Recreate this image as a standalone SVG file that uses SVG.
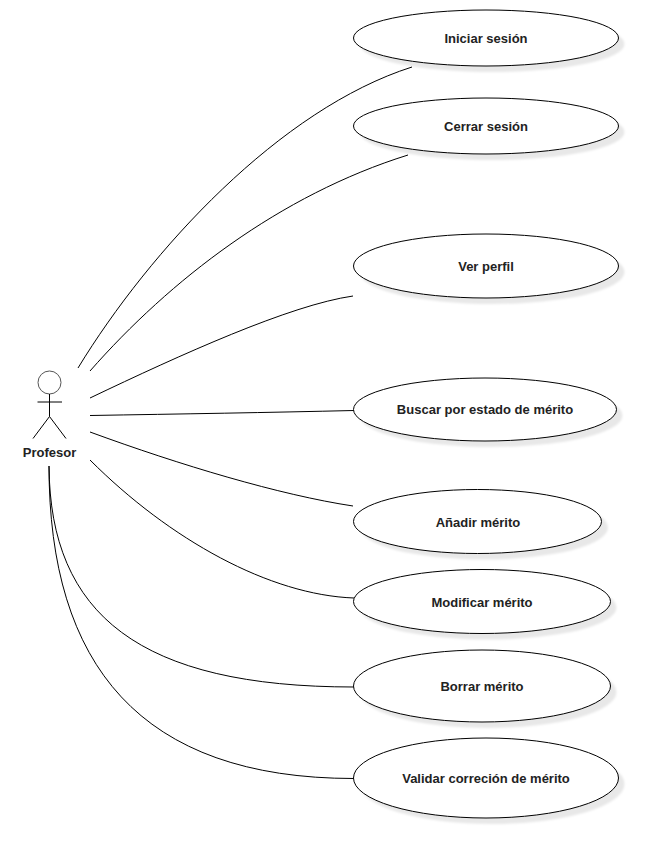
<svg xmlns="http://www.w3.org/2000/svg" width="658" height="858" viewBox="0 0 658 858">
<style>
text{font-family:"Liberation Sans",Arial,sans-serif;font-size:13px;font-weight:bold;fill:#222;text-anchor:middle}
.u{fill:#fff;stroke:#000;stroke-width:1}
.s{fill:#000;fill-opacity:.09;stroke:none;filter:url(#soft)}
.c{fill:none;stroke:#000;stroke-width:1}
</style>
<defs><filter id="soft" x="-5%" y="-10%" width="110%" height="120%"><feGaussianBlur stdDeviation="1"/></filter></defs>
<rect width="658" height="858" fill="#fff"/>
<g id="connectors">
<path class="c" d="M78 368C150 250 280 109 412 67"/>
<path class="c" d="M90 371C170 280 280 195 408 155"/>
<path class="c" d="M90 398C180 355 290 305 353 296"/>
<path class="c" d="M90 415.500C180 414 270 412.500 354 410.500"/>
<path class="c" d="M90 432C180 465 280 495 353 506"/>
<path class="c" d="M90 460C170 540 270 595 354 598"/>
<path class="c" d="M49 466C50 615 140 687 354 687"/>
<path class="c" d="M49 466C49 665 140 778.500 354 778.500"/>
</g>
<g id="actor-profesor">
<circle cx="49.500" cy="382.500" r="11.500" fill="#fff" stroke="#555" stroke-width="1"/>
<path class="c" d="M49.500 394V416.500M37.500 402H62M49.500 416.500L33 438.500M49.500 416.500L66 438.500"/>
<text x="49.500" y="457">Profesor</text>
</g>
<g id="uc-iniciar"><ellipse class="s" cx="492" cy="44" rx="132.500" ry="28"/><ellipse class="u" cx="486" cy="38" rx="132.500" ry="28"/><text x="486" y="42.500">Iniciar sesión</text></g>
<g id="uc-cerrar"><ellipse class="s" cx="492" cy="132" rx="132.500" ry="28"/><ellipse class="u" cx="486" cy="126" rx="132.500" ry="28"/><text x="486" y="131">Cerrar sesión</text></g>
<g id="uc-ver"><ellipse class="s" cx="492" cy="272" rx="132.500" ry="32"/><ellipse class="u" cx="486" cy="266" rx="132.500" ry="32"/><text x="486" y="271">Ver perfil</text></g>
<g id="uc-buscar"><ellipse class="s" cx="491" cy="415.500" rx="131.500" ry="31.500"/><ellipse class="u" cx="485" cy="409.500" rx="131.500" ry="31.500"/><text x="485" y="414">Buscar por estado de mérito</text></g>
<g id="uc-anadir"><ellipse class="s" cx="484" cy="527.500" rx="124" ry="32"/><ellipse class="u" cx="477.500" cy="521.500" rx="124" ry="32"/><text x="478" y="527">Añadir mérito</text></g>
<g id="uc-modificar"><ellipse class="s" cx="488" cy="607.500" rx="128.500" ry="32"/><ellipse class="u" cx="482" cy="601.500" rx="128.500" ry="32"/><text x="482" y="607">Modificar mérito</text></g>
<g id="uc-borrar"><ellipse class="s" cx="488" cy="692" rx="128.500" ry="36"/><ellipse class="u" cx="482" cy="686" rx="128.500" ry="36"/><text x="482" y="691">Borrar mérito</text></g>
<g id="uc-validar"><ellipse class="s" cx="492" cy="784" rx="132.500" ry="40"/><ellipse class="u" cx="486" cy="778" rx="132.500" ry="40"/><text x="486" y="783">Validar correción de mérito</text></g>
</svg>
